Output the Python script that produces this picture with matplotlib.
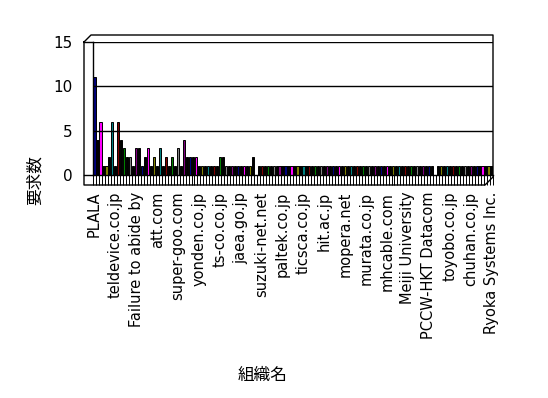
import numpy as np
import matplotlib
matplotlib.use("Agg")
import matplotlib.pyplot as plt
from matplotlib.lines import Line2D

plt.rcParams['font.family'] = ['DejaVu Sans', 'Noto Sans CJK JP']

# request counts per organisation (134 organisations)
counts = [11, 4, 6, 1, 1, 2, 6, 1, 6, 4, 3, 2, 2, 1, 3, 3, 1, 2, 3, 1,
          2, 1, 3, 1, 2, 1, 2, 1, 3, 1, 4, 2, 2, 2, 2, 1, 1, 1, 1, 1,
          1, 1, 2, 2, 1, 1, 1, 1, 1, 1, 1, 1, 1, 2, 0, 1, 1, 1, 1, 1]
counts += [1] * (114 - len(counts)) + [0] + [1] * 19

# every 7th organisation gets a label
tick_labels = ['PLALA', 'teldevice.co.jp', 'Failure to abide by', 'att.com',
               'super-goo.com', 'yonden.co.jp', 'ts-co.co.jp', 'jaea.go.jp',
               'suzuki-net.net', 'paltek.co.jp', 'ticsca.co.jp', 'hit.ac.jp',
               'mopera.net', 'murata.co.jp', 'mhcable.com', 'Meiji University',
               'PCCW-HKT Datacom', 'toyobo.co.jp', 'chuhan.co.jp',
               'Ryoka Systems Inc.']
label_step = 7

palette = ['#000080', '#000000', '#ff00ff', '#000000', '#808000', '#000000',
           '#008080', '#000000', '#800000', '#000000', '#008000', '#000000',
           '#808080', '#000000', '#800080', '#000000']

W, H = 548, 398
fig = plt.figure(figsize=(W / 100, H / 100), dpi=100)
ax = fig.add_axes([93 / W, 1 - 175 / H, 400 / W, 133 / H])

n = len(counts)
x = np.arange(n)
cols = [palette[i % len(palette)] for i in range(n)]
ax.bar(x, counts, width=0.72, color=cols, edgecolor='black', linewidth=0.7)

ax.set_xlim(-0.5, n - 0.5)
ax.set_ylim(0, 15)
ax.set_yticks([0, 5, 10, 15])
ax.tick_params(axis='y', length=0, pad=15, labelsize=11)
ax.set_xticks(x[::label_step])
ax.set_xticklabels(tick_labels, rotation=90, fontsize=10.5)
ax.set_xticks(np.arange(n + 1) - 0.5, minor=True)
ax.tick_params(axis='x', which='major', length=0, pad=12)
ax.tick_params(axis='x', which='minor', length=7.5, width=0.7, direction='out')
for v in [5, 10, 15]:
    ax.axhline(v, color='black', linewidth=1)
for s in ['top', 'right']:
    ax.spines[s].set_visible(False)
ax.spines['left'].set_linewidth(1)
ax.spines['bottom'].set_linewidth(1)


def fline(xs, ys):
    fig.add_artist(Line2D([p / W for p in xs], [1 - p / H for p in ys],
                          color='black', linewidth=1))


# pseudo 3-D walls and floor
fline([84, 91, 493, 493, 485, 84, 84], [42, 35, 35, 177, 185, 185, 42])
fline([84, 93], [42, 42])
fline([84, 93], [175, 175])

fig.text(263 / W, 1 - 375 / H, '組織名', ha='center', va='center',
         fontsize=12, family=['Noto Sans CJK JP'])
fig.text(35 / W, 1 - 180 / H, '要求数', ha='center', va='center',
         rotation=90, fontsize=12, family=['Noto Sans CJK JP'])

fig.savefig('out.png', dpi=100)
